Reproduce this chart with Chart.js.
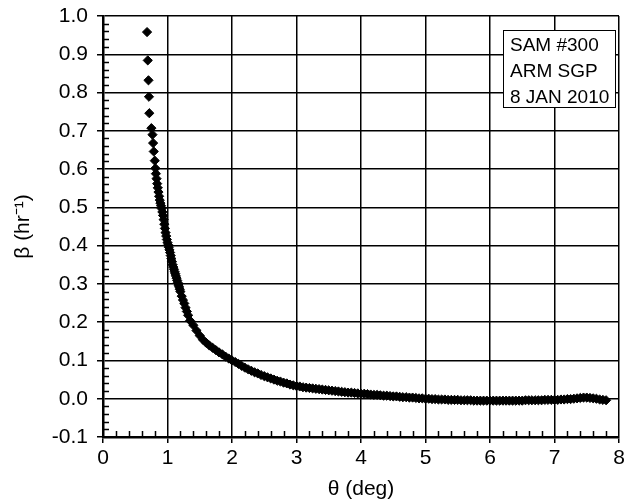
<!DOCTYPE html>
<html>
<head>
<meta charset="utf-8">
<script src="https://cdn.jsdelivr.net/npm/chart.js@4.4.0/dist/chart.umd.min.js"></script>
<style>
  html, body { margin: 0; padding: 0; background: #fff; }
</style>
</head>
<body>
<canvas id="myChart" width="625" height="502"></canvas>
<script>
/* global Chart */
{
  ('use strict');

  // scattering angle (deg)
  const thetaDeg = [
    0.683, 0.694, 0.705, 0.713, 0.718, 0.750, 0.767, 0.777, 0.787, 0.803,
    0.813, 0.82, 0.83, 0.84, 0.85, 0.86, 0.87, 0.88, 0.89, 0.90,
    0.91, 0.92, 0.93, 0.94, 0.95, 0.96, 0.97, 0.98, 0.99, 1.00,
    1.01, 1.02, 1.03, 1.04, 1.05, 1.06, 1.07, 1.08, 1.09, 1.10,
    1.11, 1.12, 1.13, 1.14, 1.15, 1.16, 1.17, 1.18, 1.19, 1.20,
    1.22, 1.24, 1.26, 1.28, 1.30, 1.32, 1.35, 1.40, 1.45,
    1.50, 1.55, 1.60, 1.65, 1.70, 1.75, 1.80, 1.85, 1.90, 1.95,
    2.00, 2.05, 2.10, 2.15, 2.20, 2.25, 2.30, 2.35, 2.40, 2.45,
    2.50, 2.55, 2.60, 2.65, 2.70, 2.75, 2.80, 2.85, 2.90, 2.95,
    3.00, 3.05, 3.10, 3.15, 3.20, 3.25, 3.30, 3.35, 3.40, 3.45,
    3.50, 3.55, 3.60, 3.65, 3.70, 3.75, 3.80, 3.85, 3.90, 3.95,
    4.00, 4.05, 4.10, 4.15, 4.20, 4.25, 4.30, 4.35, 4.40, 4.45,
    4.50, 4.55, 4.60, 4.65, 4.70, 4.75, 4.80, 4.85, 4.90, 4.95,
    5.00, 5.05, 5.10, 5.15, 5.20, 5.25, 5.30, 5.35, 5.40, 5.45,
    5.50, 5.55, 5.60, 5.65, 5.70, 5.75, 5.80, 5.85, 5.90, 5.95,
    6.00, 6.05, 6.10, 6.15, 6.20, 6.25, 6.30, 6.35, 6.40, 6.45,
    6.50, 6.55, 6.60, 6.65, 6.70, 6.75, 6.80, 6.85, 6.90, 6.95,
    7.00, 7.05, 7.10, 7.15, 7.20, 7.25, 7.30, 7.35, 7.40, 7.45,
    7.50, 7.55, 7.60, 7.65, 7.70, 7.75, 7.80,
  ];

  // beta (hr^-1)
  const betaPerHr = [
    0.958, 0.884, 0.832, 0.789, 0.746, 0.707, 0.690, 0.668, 0.646, 0.622,
    0.602, 0.588, 0.575, 0.562, 0.551, 0.540, 0.529, 0.519, 0.511, 0.504,
    0.497, 0.488, 0.479, 0.468, 0.456, 0.445, 0.434, 0.425, 0.416, 0.408,
    0.402, 0.396, 0.389, 0.382, 0.374, 0.366, 0.358, 0.350, 0.344, 0.338,
    0.332, 0.327, 0.321, 0.315, 0.309, 0.303, 0.297, 0.292, 0.286, 0.280,
    0.268, 0.258, 0.249, 0.238, 0.228, 0.218, 0.204, 0.192, 0.178,
    0.165, 0.154, 0.146, 0.139, 0.133, 0.127, 0.121, 0.116, 0.110, 0.105,
    0.100, 0.096, 0.091, 0.086, 0.081, 0.077, 0.073, 0.069, 0.066, 0.062,
    0.059, 0.056, 0.053, 0.050, 0.047, 0.045, 0.042, 0.040, 0.037, 0.035,
    0.033, 0.032, 0.030, 0.029, 0.028, 0.027, 0.026, 0.025, 0.024, 0.023,
    0.022, 0.021, 0.020, 0.019, 0.018, 0.017, 0.016, 0.016, 0.015, 0.014,
    0.013, 0.013, 0.012, 0.011, 0.010, 0.010, 0.009, 0.008, 0.008, 0.007,
    0.006, 0.006, 0.005, 0.004, 0.004, 0.003, 0.003, 0.002, 0.001, 0.001,
    0.000, 0.000, -0.001, -0.001, -0.002, -0.002, -0.002, -0.003, -0.003, -0.003,
    -0.003, -0.004, -0.004, -0.004, -0.004, -0.005, -0.005, -0.005, -0.005, -0.005,
    -0.005, -0.005, -0.005, -0.005, -0.005, -0.005, -0.005, -0.005, -0.005, -0.005,
    -0.005, -0.004, -0.004, -0.004, -0.004, -0.004, -0.004, -0.003, -0.003, -0.003,
    -0.003, -0.003, -0.002, -0.002, -0.001, -0.001, 0.000, 0.001, 0.002, 0.003,
    0.003, 0.002, 0.001, 0.000, -0.002, -0.003, -0.004,
  ];

  const boxLines = ['SAM #300', 'ARM SGP', '8 JAN 2010'];

  const FONT = "'Liberation Sans', Arial, sans-serif";

  const points = thetaDeg.map(function (t, i) {
    return { x: t, y: betaPerHr[i] };
  });

  /* inward minor ticks on left and bottom axes */
  const minorTicks = {
    id: 'minorTicks',
    beforeDatasetsDraw(chart) {
      const { ctx, chartArea, scales } = chart;
      ctx.save();
      ctx.strokeStyle = '#000';
      ctx.lineWidth = 1.5;
      ctx.beginPath();
      for (let v = -100; v <= 1000; v += 20) {
        if (v % 100 === 0) continue;
        const py = Math.round(scales.y.getPixelForValue(v / 1000)) + 0.5;
        ctx.moveTo(chartArea.left, py);
        ctx.lineTo(chartArea.left + 6, py);
      }
      for (let v = 0; v <= 80; v += 2) {
        if (v % 10 === 0) continue;
        const px = Math.round(scales.x.getPixelForValue(v / 10)) + 0.5;
        ctx.moveTo(px, chartArea.bottom);
        ctx.lineTo(px, chartArea.bottom - 6);
      }
      ctx.stroke();
      ctx.restore();
    },
  };

  /* text box in upper right corner */
  const infoBox = {
    id: 'infoBox',
    afterDraw(chart) {
      const { ctx, chartArea } = chart;
      const w = 112;
      const h = 77;
      const left = chartArea.right - 116;
      const top = chartArea.top + 14;
      ctx.save();
      ctx.fillStyle = '#fff';
      ctx.fillRect(left, top, w, h);
      ctx.strokeStyle = '#000';
      ctx.lineWidth = 1;
      ctx.strokeRect(left + 0.5, top + 0.5, w, h);
      ctx.fillStyle = '#000';
      ctx.font = '19px ' + FONT;
      ctx.textBaseline = 'alphabetic';
      boxLines.forEach(function (line, i) {
        ctx.fillText(line, left + 7, top + 21 + i * 26);
      });
      ctx.restore();
    },
  };

  const ctx = document.getElementById('myChart').getContext('2d');

  // eslint-disable-next-line
  const chart = new Chart(ctx, {
    type: 'scatter',
    data: {
      datasets: [
        {
          label: 'beta',
          data: points,
          pointStyle: 'rectRot',
          pointRadius: 4.6,
          backgroundColor: '#000',
          borderColor: '#000',
          borderWidth: 1,
        },
      ],
    },
    options: {
      responsive: false,
      animation: false,
      devicePixelRatio: 1,
      layout: {
        padding: { top: 16, right: 6, left: 0, bottom: 0 },
      },
      plugins: {
        legend: { display: false },
        tooltip: { enabled: false },
      },
      scales: {
        x: {
          type: 'linear',
          min: 0,
          max: 8,
          afterFit: function (scale) {
            scale.height = 65;
            scale.paddingLeft = 0;
            scale.paddingRight = 0;
          },
          ticks: {
            stepSize: 1,
            color: '#000',
            padding: 3,
            font: { family: FONT, size: 21 },
          },
          grid: {
            color: '#000',
            lineWidth: 1.5,
            tickLength: 6,
            tickColor: '#000',
          },
          border: { color: '#000', width: 2.5 },
          title: {
            display: true,
            text: 'θ (deg)',
            color: '#000',
            padding: { bottom: 0 },
            font: { family: FONT, size: 21 },
          },
        },
        y: {
          type: 'linear',
          min: -0.1,
          max: 1.0,
          afterFit: function (scale) {
            scale.width = 103;
            scale.paddingTop = 0;
            scale.paddingBottom = 0;
          },
          ticks: {
            stepSize: 0.1,
            color: '#000',
            padding: 9,
            font: { family: FONT, size: 21 },
            callback: function (value) {
              return value.toFixed(1);
            },
          },
          grid: {
            color: '#000',
            lineWidth: 1.5,
            tickLength: 6,
            tickColor: '#000',
          },
          border: { color: '#000', width: 2.5 },
          title: {
            display: true,
            text: 'β (hr⁻¹)',
            color: '#000',
            padding: { top: 11 },
            font: { family: FONT, size: 21 },
          },
        },
      },
    },
    plugins: [minorTicks, infoBox],
  });
}
</script>
</body>
</html>
